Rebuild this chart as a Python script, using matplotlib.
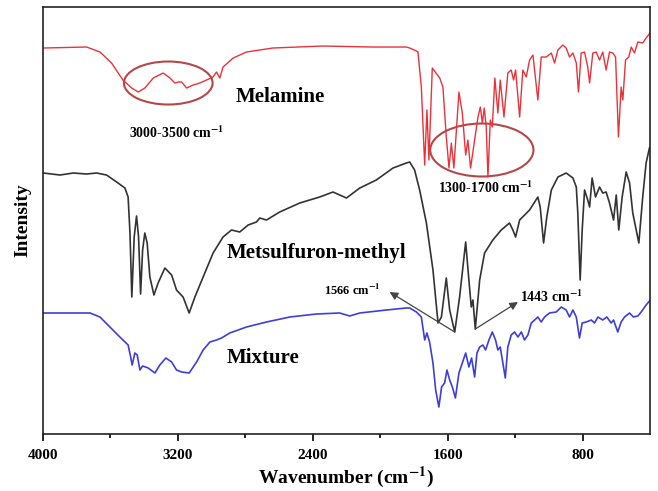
import numpy as np
import matplotlib
matplotlib.use('Agg')
import matplotlib.pyplot as plt
from matplotlib.patches import Ellipse

plt.rcParams['font.family'] = ['Liberation Serif', 'DejaVu Serif']
plt.rcParams['font.weight'] = 'bold'
plt.rcParams['mathtext.fontset'] = 'stix'

# Melamine (red), wavenumber [cm-1] / intensity [a.u.]
wn_mel = [4000, 3741, 3662, 3593, 3526, 3474, 3435, 3396, 3346, 3287, 3247, 3218, 3198, 3178,
          3148, 3109, 3070, 3030, 2991, 2971, 2951, 2932, 2872, 2793, 2637, 2341, 2044, 1845,
          1825, 1785, 1776, 1756, 1736, 1723, 1711, 1691, 1647, 1628, 1608, 1592, 1578, 1563,
          1533, 1513, 1493, 1480, 1464, 1440, 1420, 1406, 1394, 1383, 1371, 1361, 1347, 1335,
          1320, 1302, 1288, 1266, 1243, 1223, 1209, 1197, 1173, 1154, 1134, 1114, 1094, 1065,
          1045, 1015, 985, 966, 946, 917, 897, 877, 857, 837, 824, 808, 788, 769, 758, 739,
          719, 699, 680, 660, 640, 620, 604, 587, 571, 561, 545, 526, 511, 492, 472, 443, 423, 400]
i_mel = [386, 387, 382, 371, 354, 346, 342, 346, 356, 361, 356, 351, 352, 352,
         346, 349, 351, 354, 357, 362, 356, 367, 376, 382, 386, 388, 387, 387,
         386, 383, 382, 347, 269, 324, 274, 366, 356, 347, 297, 266, 291, 266,
         342, 321, 279, 294, 266, 294, 317, 327, 311, 326, 307, 257, 314, 307,
         356, 321, 354, 317, 361, 364, 354, 364, 317, 364, 357, 374, 379, 334,
         377, 377, 381, 371, 384, 389, 386, 377, 381, 371, 342, 381, 382, 367, 351, 381,
         382, 374, 382, 364, 382, 381, 377, 297, 347, 334, 374, 377, 387, 381, 392, 391, 396, 401]

# Metsulfuron-methyl (black)
wn_met = [3998, 3899, 3820, 3741, 3682, 3623, 3563, 3514, 3495, 3484, 3473, 3459, 3445, 3433,
          3421, 3409, 3396, 3382, 3366, 3342, 3317, 3277, 3237, 3208, 3169, 3133, 3099, 3050,
          2991, 2932, 2882, 2833, 2783, 2734, 2714, 2674, 2596, 2477, 2359, 2280, 2200, 2121,
          2023, 1924, 1845, 1825, 1796, 1766, 1726, 1687, 1657, 1637, 1608, 1588, 1558, 1529,
          1493, 1474, 1460, 1450, 1436, 1410, 1381, 1332, 1282, 1233, 1213, 1197, 1173, 1114,
          1065, 1051, 1031, 1012, 985, 946, 897, 857, 837, 828, 814, 802, 788, 769, 758, 743,
          723, 699, 680, 660, 640, 616, 600, 585, 565, 541, 521, 502, 466, 443, 423, 403]
i_met = [261, 259, 261, 260, 261, 259, 252, 246, 237, 201, 137, 197, 218, 197,
         140, 184, 201, 191, 157, 139, 151, 166, 159, 144, 137, 121, 137, 157,
         181, 197, 204, 202, 209, 212, 216, 214, 222, 231, 237, 242, 236, 246,
         254, 266, 271, 272, 264, 244, 211, 164, 111, 117, 156, 124, 102, 137,
         192, 154, 127, 134, 105, 154, 181, 194, 204, 211, 204, 197, 214, 224,
         237, 227, 191, 217, 244, 257, 261, 256, 247, 221, 154, 204, 244, 234, 227, 256,
         237, 247, 241, 242, 231, 214, 239, 204, 237, 262, 251, 221, 191, 237, 271, 286]

# Mixture (blue)
wn_mix = [3998, 3860, 3721, 3662, 3603, 3544, 3495, 3480, 3471, 3455, 3441, 3425, 3409, 3376,
          3336, 3307, 3271, 3237, 3208, 3178, 3133, 3089, 3050, 3010, 2971, 2941, 2892, 2793,
          2674, 2536, 2378, 2240, 2181, 2121, 1963, 1845, 1825, 1785, 1756, 1736, 1723, 1707,
          1687, 1671, 1652, 1636, 1618, 1604, 1588, 1572, 1554, 1533, 1513, 1493, 1474, 1458,
          1440, 1426, 1410, 1391, 1375, 1355, 1335, 1316, 1302, 1288, 1258, 1243, 1223, 1203,
          1183, 1163, 1144, 1124, 1104, 1084, 1065, 1045, 1025, 996, 956, 926, 897, 877, 857,
          837, 828, 818, 802, 778, 748, 729, 709, 680, 656, 630, 616, 591, 571, 551, 521, 498,
          472, 452, 423, 403]
i_mix = [121, 121, 121, 117, 107, 97, 89, 77, 69, 81, 79, 64, 68, 66,
         61, 69, 76, 72, 64, 62, 61, 72, 84, 92, 94, 96, 101, 107,
         112, 117, 120, 121, 118, 121, 124, 126, 126, 122, 117, 94, 101, 92,
         71, 44, 27, 47, 51, 64, 54, 47, 36, 61, 71, 81, 67, 76,
         57, 81, 87, 89, 84, 94, 102, 94, 84, 87, 56, 87, 99, 102,
         97, 102, 94, 99, 111, 114, 117, 112, 117, 121, 122, 127, 124, 117, 124,
         117, 107, 96, 111, 112, 114, 111, 117, 114, 117, 111, 114, 102, 112, 117, 121, 117,
         118, 122, 129, 133]

fig = plt.figure(figsize=(6.58, 4.91), dpi=100)
ax = fig.add_axes([0.0653, 0.1161, 0.9225, 0.8696])

ax.plot(wn_mel, i_mel, color='#e8333a', lw=1.0)
ax.plot(wn_met, i_met, color='#333333', lw=1.2)
ax.plot(wn_mix, i_mix, color='#3d3fd6', lw=1.2)

# marked regions
ax.add_patch(Ellipse((3257, 351), 526, 43, fill=False, ec='#b5474a', lw=1.5))
ax.add_patch(Ellipse((1397, 284), 612, 53, fill=False, ec='#b5474a', lw=1.5))

ax.text(3206, 301, r'3000-3500 cm$^{\mathbf{-1}}$', ha='center', va='center', fontsize=10)
ax.text(1375, 246, r'1300-1700 cm$^{\mathbf{-1}}$', ha='center', va='center', fontsize=10)
ax.text(2856, 337, 'Melamine', ha='left', va='center', fontsize=15)
ax.text(2910, 181, 'Metsulfuron-methyl', ha='left', va='center', fontsize=15)
ax.text(2910, 76, 'Mixture', ha='left', va='center', fontsize=15)

arrow = dict(arrowstyle='-|>', color='#444444', lw=0.9, mutation_scale=12, shrinkA=0, shrinkB=0)
ax.annotate('', xy=(1944, 142), xytext=(1558, 102), arrowprops=arrow)
ax.annotate('', xy=(1183, 132), xytext=(1436, 105), arrowprops=arrow)
ax.text(2163, 144, r'1566 cm$^{\mathbf{-1}}$', ha='center', va='center', fontsize=9)
ax.text(984, 137, r'1443 cm$^{\mathbf{-1}}$', ha='center', va='center', fontsize=10)

ax.set_xlim(4000, 400)
ax.set_ylim(0, 427)
ax.set_xticks([4000, 3200, 2400, 1600, 800])
ax.set_xticks([3600, 2800, 2000, 1200], minor=True)
ax.set_yticks([])
ax.tick_params(axis='x', which='major', direction='out', length=5, width=1.2, labelsize=11, pad=6)
ax.tick_params(axis='x', which='minor', direction='out', length=3, width=1.2)
for lab in ax.get_xticklabels():
    lab.set_fontweight('bold')
for s in ax.spines.values():
    s.set_linewidth(1.2)
    s.set_color('#222222')

ax.set_xlabel(r'Wavenumber (cm$^{\mathbf{-1}}$)', fontsize=14, fontweight='bold', labelpad=2)
ax.set_ylabel('Intensity', fontsize=14, fontweight='bold', labelpad=8)

fig.savefig('out.png', dpi=100)
